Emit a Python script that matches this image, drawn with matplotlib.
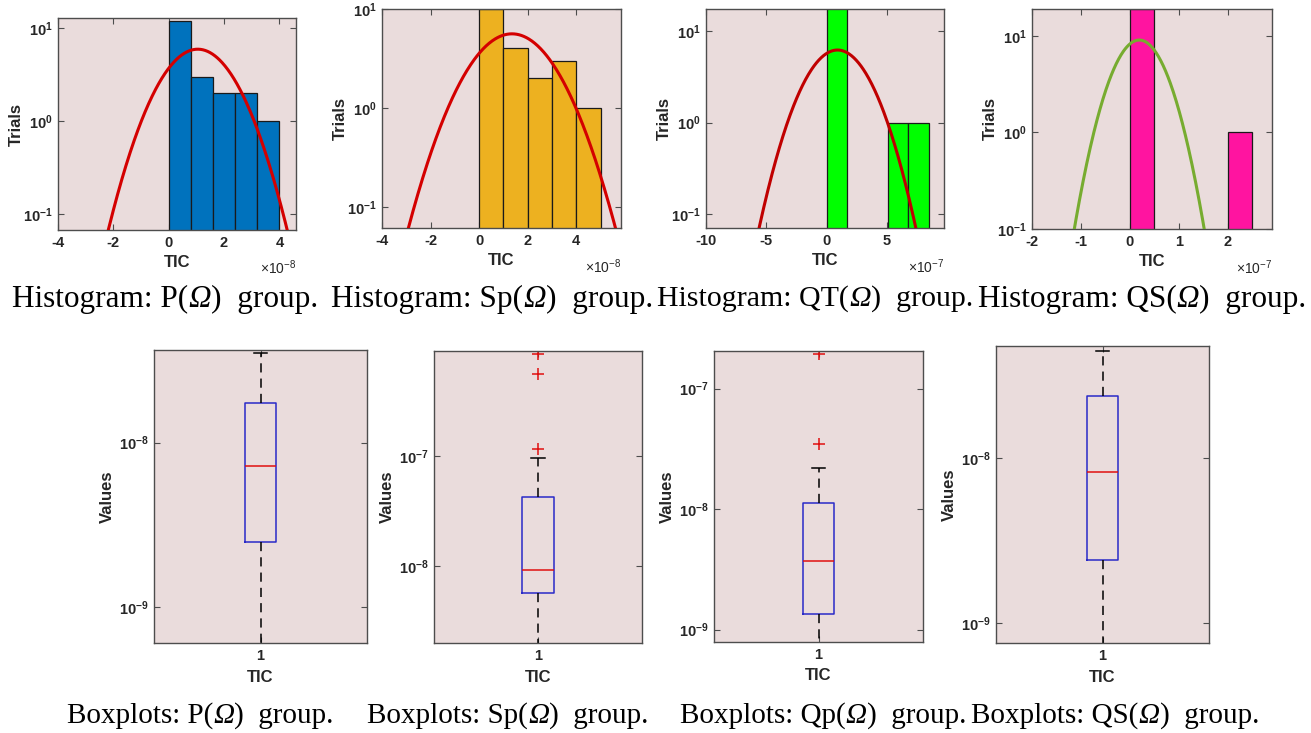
import numpy as np
import matplotlib
matplotlib.use('Agg')
import matplotlib.pyplot as plt
from matplotlib.ticker import FixedLocator, FuncFormatter

plt.rcParams['font.family'] = 'Liberation Sans'
plt.rcParams['mathtext.fontset'] = 'custom'
plt.rcParams['mathtext.rm'] = 'Liberation Sans'
plt.rcParams['mathtext.bf'] = 'Liberation Sans:bold'

W, H = 1311, 733

## histogram data (x in units of the exponent shown at the axis corner)
hist_names = ['P', 'Sp', 'QT', 'QS']
hist_edges = [
    [0.0, 0.8, 1.6, 2.4, 3.2, 4.0],
    [0.0, 1.0, 2.0, 3.0, 4.0, 5.0],
    [0.0, 1.7, 3.4, 5.1, 6.8, 8.5],
    [0.0, 0.5, 1.0, 1.5, 2.0, 2.5],
]
hist_counts = [
    [12, 3, 2, 2, 1],
    [10, 4, 2, 3, 1],
    [18, 0, 0, 1, 1],
    [19, 0, 0, 0, 1],
]
fit_mu = [1.05, 1.35, 0.91, 0.19]
fit_sigma = [1.08, 1.42, 2.17, 0.442]
hist_exp = [-8, -8, -7, -7]
hist_colors = ['#0072BD', '#EDB120', '#00FF00', '#FF14A0']
fit_colors = ['#D40000', '#D40000', '#C00000', '#77AC30']
hist_xlim = [(-4.0, 4.6), (-4.0, 5.84), (-10.0, 9.75), (-2.0, 2.9)]
hist_ylim = [(0.067, 12.8), (0.062, 10.0), (0.070, 17.6), (0.1, 18.9)]
hist_xticks = [[-4, -2, 0, 2, 4], [-4, -2, 0, 2, 4], [-10, -5, 0, 5], [-2, -1, 0, 1, 2]]

## boxplot summary values
box_names = ['P', 'Sp', 'Qp', 'QS']
box_med = [7.22e-9, 9.2e-9, 3.70e-9, 8.3e-9]
box_q1 = [2.50e-9, 5.65e-9, 1.355e-9, 2.42e-9]
box_q3 = [1.746e-8, 4.26e-8, 1.114e-8, 2.39e-8]
box_lo = [4.0e-10, 1.5e-9, 6.0e-10, 5.0e-10]
box_hi = [3.48e-8, 9.53e-8, 2.18e-8, 4.49e-8]
box_fliers = [[], [1.15e-7, 5.65e-7, 8.59e-7], [3.46e-8, 1.94e-7], []]
box_ylim = [(6.08e-10, 3.65e-8), (1.98e-9, 9.06e-7), (7.9e-10, 2.05e-7), (7.56e-10, 4.80e-8)]
box_yticks = [[1e-9, 1e-8], [1e-8, 1e-7], [1e-9, 1e-8, 1e-7], [1e-9, 1e-8]]

# axes boxes in pixels: left, right, top, bottom
hist_px = [(58, 296, 18, 230), (382, 621, 9, 228), (706, 944, 9, 228), (1032, 1272, 9, 229)]
box_px = [(154, 367, 350, 643), (434, 642, 351, 643), (714, 923, 351, 642), (996, 1209, 346, 643)]
hist_cap_x = [165, 492, 815, 1142]
hist_cap_size = [22.5, 22.5, 21.5, 22.5]
box_cap_x = [200, 508, 823, 1115]

bg = '#EADCDC'
spine_c = '#4D4D4D'
txt_c = '#262626'

fig = plt.figure(figsize=(W/100, H/100), dpi=100)
renderer = fig.canvas.get_renderer()


def px_axes(l, r, t, b):
    return fig.add_axes([l/W, 1 - b/H, (r - l)/W, (b - t)/H])


def log_fmt(v, pos):
    return r'$\mathbf{10^{%d}}$' % int(round(np.log10(v)))


def matlab_style(ax):
    ax.set_facecolor(bg)
    for s in ax.spines.values():
        s.set_color(spine_c)
        s.set_linewidth(1.0)
    ax.tick_params(which='both', direction='in', top=True, right=True,
                   length=4, width=0.8, color=spine_c, labelcolor=txt_c,
                   labelsize=10.5, pad=4)
    ax.minorticks_off()


def caption(xc, yc, pre, post, size):
    # serif caption with an italic omega in the middle, centred on (xc, yc) px
    parts = [(pre, 'normal'), ('\u03a9', 'italic'), (post, 'normal')]
    texts = [fig.text(0, 1 - yc/H, s, ha='left', va='center', fontsize=size,
                      family='Liberation Serif', style=st, color='black')
             for s, st in parts]
    widths = [t.get_window_extent(renderer).width for t in texts]
    x = xc - sum(widths)/2
    for t, w in zip(texts, widths):
        t.set_x(x/W)
        x += w


for i in range(4):
    ax = px_axes(*hist_px[i])
    matlab_style(ax)
    ax.set_yscale('log')
    edges = np.array(hist_edges[i])
    counts = np.array(hist_counts[i])
    bw = edges[1] - edges[0]
    keep = counts > 0
    ax.bar(edges[:-1][keep], counts[keep], width=bw, align='edge', bottom=1e-3,
           color=hist_colors[i], edgecolor='#1A1A1A', linewidth=0.9, zorder=2)
    # normal fit scaled to counts
    xs = np.linspace(hist_xlim[i][0], hist_xlim[i][1], 400)
    ys = counts.sum()*bw*np.exp(-0.5*((xs - fit_mu[i])/fit_sigma[i])**2)/(fit_sigma[i]*np.sqrt(2*np.pi))
    ax.plot(xs, ys, color=fit_colors[i], lw=2.2, zorder=3)
    ax.set_xlim(*hist_xlim[i])
    ax.set_ylim(*hist_ylim[i])
    ax.xaxis.set_major_locator(FixedLocator(hist_xticks[i]))
    ax.set_xticklabels([str(t) for t in hist_xticks[i]], fontweight='bold')
    ax.yaxis.set_major_locator(FixedLocator([0.1, 1, 10]))
    ax.yaxis.set_major_formatter(FuncFormatter(log_fmt))
    ax.minorticks_off()
    ax.set_xlabel('TIC', fontsize=12, fontweight='bold', color=txt_c, labelpad=4)
    ax.set_ylabel('Trials', fontsize=12, fontweight='bold', color=txt_c, labelpad=-1)
    ax.text(1.0, -0.135, r'$\times10^{%d}$' % hist_exp[i], transform=ax.transAxes,
            ha='right', va='top', fontsize=10, color=txt_c)
    caption(hist_cap_x[i], 299, 'Histogram: %s(' % hist_names[i], ')  group.', hist_cap_size[i])

for i in range(4):
    ax = px_axes(*box_px[i])
    matlab_style(ax)
    ax.set_yscale('log')
    st = [dict(med=box_med[i], q1=box_q1[i], q3=box_q3[i], whislo=box_lo[i],
               whishi=box_hi[i], fliers=box_fliers[i])]
    ax.bxp(st, positions=[1], widths=0.15, capwidths=0.065, showfliers=True,
           boxprops=dict(color='#2A2AC8', linewidth=1.1),
           medianprops=dict(color='#E01010', linewidth=1.1),
           whiskerprops=dict(color='black', linewidth=1.1, linestyle=(0, (6, 4))),
           capprops=dict(color='black', linewidth=1.1),
           flierprops=dict(marker='+', markeredgecolor='#E01010', markersize=9,
                           markeredgewidth=1.1))
    ax.set_xlim(0.5, 1.5)
    ax.set_ylim(*box_ylim[i])
    ax.xaxis.set_major_locator(FixedLocator([1]))
    ax.set_xticklabels(['1'], fontweight='bold')
    ax.yaxis.set_major_locator(FixedLocator(box_yticks[i]))
    ax.yaxis.set_major_formatter(FuncFormatter(log_fmt))
    ax.minorticks_off()
    ax.set_xlabel('TIC', fontsize=12, fontweight='bold', color=txt_c, labelpad=5)
    ax.set_ylabel('Values', fontsize=12, fontweight='bold', color=txt_c, labelpad=2.5)
    caption(box_cap_x[i], 716, 'Boxplots: %s(' % box_names[i], ')  group.', 21)

fig.savefig('out.png', dpi=100, facecolor='white')
